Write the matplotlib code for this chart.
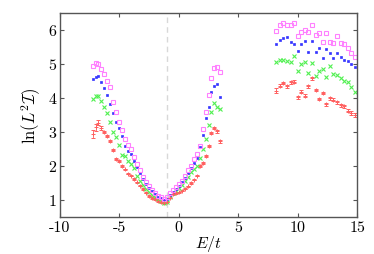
import matplotlib
matplotlib.use('Agg')
import matplotlib.pyplot as plt

plt.rcParams['font.family'] = 'cmr10'
plt.rcParams['mathtext.fontset'] = 'cm'
plt.rcParams['axes.unicode_minus'] = False
plt.rcParams['axes.formatter.use_mathtext'] = False

# energy grids (E/t)
E_left = [-7.25, -7.0, -6.75, -6.5, -6.25, -6.0, -5.75, -5.5, -5.25, -5.0, -4.75,
          -4.5, -4.25, -4.0, -3.75, -3.5, -3.25, -3.0, -2.75, -2.5, -2.25, -2.0,
          -1.75, -1.5, -1.25, -1.0, -0.75, -0.5, -0.25, 0.0, 0.25, 0.5, 0.75, 1.0,
          1.25, 1.5, 1.75, 2.0, 2.25, 2.5, 2.75, 3.0, 3.25, 3.5]
E_right = [8.2, 8.5, 8.8, 9.1, 9.4, 9.7, 10.0, 10.3, 10.6, 10.9, 11.2, 11.5,
           11.8, 12.1, 12.4, 12.7, 13.0, 13.3, 13.6, 13.9, 14.2, 14.5, 14.8]

# ln(L^2 I) for four system sizes
mag_left = [4.95, 5.03, 5.0, 4.85, 4.7, 4.5, 4.33, 3.88, 3.6, 3.3, 3.05, 2.8, 2.62,
            2.5, 2.27, 2.07, 1.88, 1.67, 1.52, 1.4, 1.3, 1.22, 1.13, 1.08, 1.03,
            1.08, 1.2, 1.3, 1.38, 1.48, 1.57, 1.7, 1.88, 2.0, 2.2, 2.35, 2.6, 3.1,
            3.6, 4.1, 4.6, 4.88, 4.9, 4.76]
mag_right = [5.98, 6.15, 6.2, 6.15, 6.15, 6.21, 5.83, 5.93, 6.01, 5.95, 6.15, 5.85,
             5.91, 5.64, 5.91, 5.66, 5.62, 5.81, 5.62, 5.59, 5.46, 5.33, 5.2]

blue_left = [4.55, 4.62, 4.64, 4.46, 4.3, 4.08, 3.82, 3.55, 3.3, 3.12, 2.87, 2.6,
             2.45, 2.35, 2.15, 1.98, 1.8, 1.62, 1.47, 1.36, 1.27, 1.18, 1.1, 1.05,
             1.0, 1.03, 1.15, 1.25, 1.33, 1.42, 1.52, 1.65, 1.8, 1.95, 2.1, 2.24,
             2.55, 2.9, 3.4, 3.75, 4.17, 4.35, 4.41, 4.02]
blue_right = [5.59, 5.7, 5.76, 5.79, 5.66, 5.59, 5.39, 5.6, 5.69, 5.34, 5.69, 5.34,
              5.46, 5.17, 5.44, 5.32, 5.17, 5.32, 5.2, 5.13, 5.1, 5.0, 4.9]

green_left = [3.98, 4.05, 4.05, 3.92, 3.75, 3.55, 3.3, 3.0, 2.85, 2.62, 2.32, 2.3,
              2.16, 2.05, 1.93, 1.72, 1.56, 1.45, 1.33, 1.25, 1.15, 1.08, 1.02,
              0.97, 0.92, 0.95, 1.1, 1.2, 1.28, 1.36, 1.45, 1.55, 1.68, 1.82, 1.9,
              2.0, 2.25, 2.5, 2.8, 3.2, 3.6, 3.85, 3.75, 3.68]
green_right = [5.05, 5.13, 5.13, 5.08, 5.05, 5.23, 4.8, 5.0, 5.05, 4.74, 5.03, 4.66,
               4.8, 4.85, 4.61, 4.93, 4.71, 4.68, 4.6, 4.51, 4.46, 4.31, 4.17]

red_left = [2.95, 3.14, 3.28, 3.12, 3.0, 2.88, 2.75, 2.48, 2.22, 2.15, 2.0, 1.9,
            1.78, 1.72, 1.62, 1.52, 1.42, 1.32, 1.22, 1.12, 1.06, 1.02, 0.97, 0.93,
            0.9, 0.95, 1.07, 1.17, 1.2, 1.23, 1.28, 1.33, 1.4, 1.5, 1.6, 1.72, 2.0,
            2.1, 2.3, 2.6, 2.97, 3.12, 3.02, 2.73]
red_right = [4.22, 4.36, 4.44, 4.34, 4.46, 4.48, 4.02, 4.19, 4.07, 4.34, 4.58, 4.24,
             3.97, 4.15, 3.82, 3.99, 3.95, 3.87, 3.79, 3.76, 3.63, 3.56, 3.5]

red_err_left = [0.12, 0.1, 0.06, 0.05, 0.04, 0.04, 0.03, 0.03, 0.03, 0.03, 0.02,
                0.02, 0.02, 0.02, 0.02, 0.02, 0.02, 0.02, 0.02, 0.02, 0.02, 0.02,
                0.02, 0.02, 0.02, 0.02, 0.02, 0.02, 0.02, 0.02, 0.02, 0.02, 0.02,
                0.02, 0.02, 0.02, 0.02, 0.03, 0.03, 0.03, 0.03, 0.04, 0.04, 0.04]
red_err_right = [0.08, 0.05, 0.04, 0.04, 0.04, 0.04, 0.04, 0.04, 0.04, 0.04, 0.04,
                 0.04, 0.04, 0.04, 0.04, 0.04, 0.04, 0.04, 0.04, 0.04, 0.05, 0.06,
                 0.06]

fig = plt.figure(figsize=(3.74, 2.55), dpi=100)
ax = fig.add_axes([0.160, 0.145, 0.795, 0.80])

ax.axvline(-1, color='#d8d8d8', lw=1.0, ls=(0, (4, 3)), zorder=0)

for E, y, err in [(E_left, red_left, red_err_left), (E_right, red_right, red_err_right)]:
    ax.errorbar(E, y, yerr=err, fmt='+', color='#ff6060', ms=2.2, mew=0.7,
                elinewidth=0.6, capsize=1.2, capthick=0.6)
for E, y in [(E_left, green_left), (E_right, green_right)]:
    ax.plot(E, y, 'x', color='#50f050', ms=2.4, mew=0.8)
for E, y in [(E_left, blue_left), (E_right, blue_right)]:
    ax.plot(E, y, 's', color='#3535ff', ms=1.9, mew=0.5)
for E, y in [(E_left, mag_left), (E_right, mag_right)]:
    ax.plot(E, y, 's', color='#ff80ff', mfc='none', ms=3.0, mew=0.8)

ax.set_xlim(-10, 15)
ax.set_ylim(0.5, 6.5)
ax.set_xticks([-10, -5, 0, 5, 10, 15])
ax.set_yticks([1, 2, 3, 4, 5, 6])
ax.tick_params(direction='in', top=True, right=True, length=3, width=0.8,
               color='#555555', labelsize=11.5, pad=2.5)
for s in ax.spines.values():
    s.set_color('#555555')
    s.set_linewidth(1.0)

ax.set_xlabel(r'$E/t$', fontsize=11.5, labelpad=-1)
ax.set_ylabel(r'$\ln(L^2\mathcal{I})$', fontsize=12, labelpad=4)

plt.savefig('out.png', dpi=100)
